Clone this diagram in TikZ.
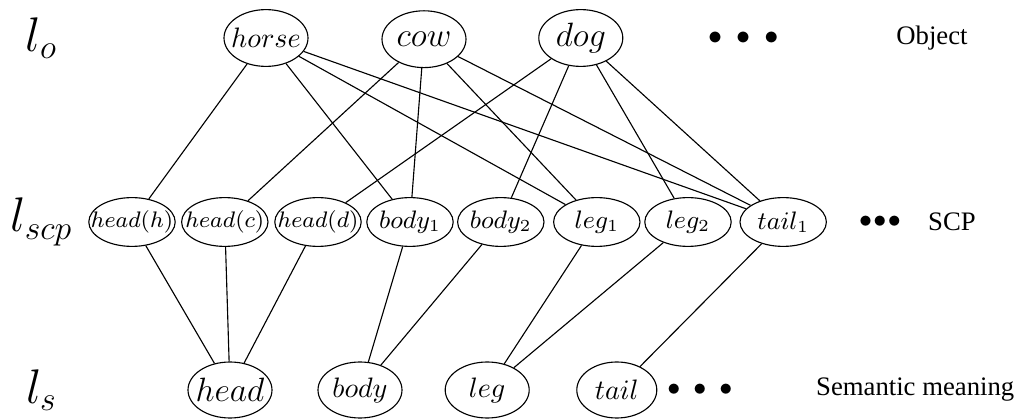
\documentclass[tikz,border=0pt]{standalone}
\usepackage{amsmath}
\usepackage{amssymb}
\usepackage{fontspec}
\newfontfamily\tagfont{Liberation Serif}
\usetikzlibrary{shapes,positioning}

% keep the ellipse from growing around its label
\newcommand{\lbl}[1]{\makebox[0pt]{#1}}

\tikzset{
  objnode/.style={ellipse, draw, thin, inner sep=0pt, minimum width=1.05cm, minimum height=0.71cm},
  scpnode/.style={ellipse, draw, thin, inner sep=0pt, minimum width=1.08cm, minimum height=0.61cm},
  semnode/.style={ellipse, draw, thin, inner sep=0pt, minimum width=1.05cm, minimum height=0.7cm},
  layer/.style={font=\LARGE},
  tag/.style={font=\tagfont\fontsize{9.5}{11}\selectfont}
}

\begin{document}
\begin{tikzpicture}
            \useasboundingbox (0,0) rectangle (12.6875,5.25);

            % layer names
            \node[layer] (lo) at (0.52, 4.775) {$l_o$};
            \node[layer] (lscp) at (0.52, 2.475) {$l_{scp}$};
            \node[layer] (ls) at (0.52, 0.375) {$l_s$};

            % objects
            \node[objnode] (horse) at (3.325, 4.775) {\lbl{$horse$}};
            \node[objnode, font=\large] (cow) at (5.3, 4.76) {\lbl{$cow$}};
            \node[objnode, font=\large] (dog) at (7.26, 4.775) {\lbl{$dog$}};
            \node (odots) at (9.29, 4.775) {$\bullet\;\bullet\;\bullet$};
            \node[tag] (otag) at (11.65, 4.775) {Object};

            % SCP layer
            \node[scpnode, font=\footnotesize] (hh) at (1.65, 2.475) {\lbl{$head(h)$}};
            \node[scpnode, font=\footnotesize] (hc) at (2.81, 2.475) {\lbl{$head(c)$}};
            \node[scpnode, font=\footnotesize] (hd) at (3.975, 2.475) {\lbl{$head(d)$}};
            \node[scpnode, font=\small] (b1) at (5.125, 2.475) {\lbl{$body_1$}};
            \node[scpnode, font=\small] (b2) at (6.26, 2.475) {\lbl{$body_2$}};
            \node[scpnode, font=\small] (l1) at (7.46, 2.475) {\lbl{$leg_1$}};
            \node[scpnode, font=\small] (l2) at (8.6, 2.475) {\lbl{$leg_2$}};
            \node[scpnode, font=\small] (t1) at (9.79, 2.475) {\lbl{$tail_1$}};
            \node[font=\small] (sdots) at (11.0, 2.475) {$\bullet\!\bullet\!\bullet$};
            \node[tag] (stag) at (11.9, 2.475) {SCP};

            % semantic meanings
            \node[semnode, font=\large] (head) at (2.875, 0.375) {\lbl{$head$}};
            \node[semnode] (body) at (4.5, 0.375) {\lbl{$body$}};
            \node[semnode] (leg) at (6.09, 0.375) {\lbl{$leg$}};
            \node[semnode, minimum width=1cm] (tail) at (7.71, 0.375) {\lbl{$tail$}};
            \node[font=\small] (mdots) at (8.75, 0.375) {$\bullet\;\bullet\;\bullet$};
            \node[tag] (mtag) at (11.44, 0.375) {Semantic meaning};

            % object -> SCP
            \draw (horse) -- (hh);
            \draw (horse) -- (b1);
            \draw (horse) -- (l1);
            \draw (horse) -- (t1);
            \draw (cow) -- (hc);
            \draw (cow) -- (b1);
            \draw (cow) -- (l1);
            \draw (cow) -- (t1);
            \draw (dog) -- (hd);
            \draw (dog) -- (b2);
            \draw (dog) -- (l2);
            \draw (dog) -- (t1);

            % SCP -> semantic meaning
            \draw (hh) -- (head);
            \draw (hc) -- (head);
            \draw (hd) -- (head);
            \draw (b1) -- (body);
            \draw (b2) -- (body);
            \draw (l1) -- (leg);
            \draw (l2) -- (leg);
            \draw (t1) -- (tail);
\end{tikzpicture}
\end{document}
